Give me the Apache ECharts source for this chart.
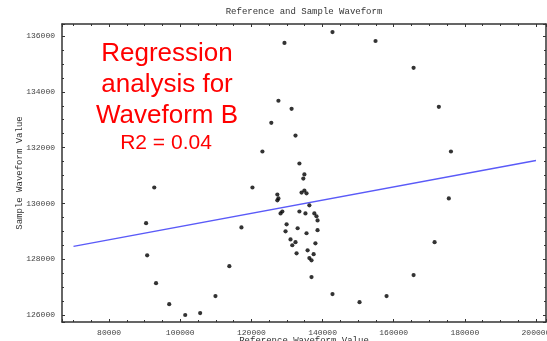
<!DOCTYPE html>
<html>
<head>
<meta charset="utf-8">
<script src="https://cdn.jsdelivr.net/npm/echarts@6/dist/echarts.min.js"></script>
<style>
  html, body { margin: 0; padding: 0; background: #fff; }
  #chart { width: 547px; height: 341px; }
</style>
</head>
<body>
<div id="chart"></div>
<script>
// reference waveform value (x) and sample waveform value (y) of each point
const refValues = [
  142800, 129300, 154900, 165600, 127600, 131300, 125600, 132400, 172700, 176100,
  123100, 133500, 134900, 134600, 92700, 120300, 134100, 134900, 135500, 127300,
  127600, 127300, 175500, 136300, 128700, 128200, 133500, 135200, 137700, 138300,
  138600, 90400, 129900, 117200, 129600, 133000, 138600, 135500, 131000, 132400,
  131500, 138000, 171500, 132700, 135800, 137500, 136300, 136900, 90700, 113800,
  165600, 136900, 93200, 142800, 158000, 109900, 150400, 96900, 101400, 105600
]
const sampleValues = [
  136140, 135750, 135820, 134860, 133680, 133390, 132890, 132430, 133460, 131860,
  131860, 131430, 131040, 130890, 130570, 130570, 130390, 130460, 130360, 130320,
  130180, 130110, 130180, 129930, 129710, 129640, 129710, 129640, 129640, 129540,
  129390, 129290, 129250, 129140, 129000, 129110, 129040, 128930, 128710, 128610,
  128500, 128570, 128610, 128210, 128320, 128180, 128040, 127960, 128140, 127750,
  127430, 127360, 127140, 126750, 126680, 126680, 126460, 126390, 126000, 126070
]
// fitted regression line end points
const fitX = [70000, 200000]
const fitY = [128460, 131540]

const xMin = 66760, xMax = 202820
const yMin = 125750, yMax = 136430

let points = []
for (let i = 0; i < refValues.length; i++) {
    points.push([refValues[i], sampleValues[i]])
}
let fitLine = []
for (let i = 0; i < fitX.length; i++) {
    fitLine.push([fitX[i], fitY[i]])
}

const plain = v => String(v)
const axisFont = { fontFamily: 'Liberation Mono', fontSize: 8, color: '#444', formatter: plain }
const lineStyle = { color: '#333', width: 1.5 }

const chart = echarts.init(document.getElementById('chart'), null, { renderer: 'canvas' })
const option = {
    animation: false,
    grid: { left: 62, top: 24, right: 1, bottom: 19, show: false, containLabel: false, outerBoundsMode: 'none' },
    xAxis: [{
        type: 'value',
        min: xMin,
        max: xMax,
        splitNumber: 7,
        name: 'Reference Waveform Value',
        nameLocation: 'middle',
        nameGap: 14,
        nameMoveOverlap: false,
        nameTextStyle: { fontFamily: 'Liberation Mono', fontSize: 9, color: '#333' },
        axisLine: { show: true, onZero: false, lineStyle: lineStyle },
        axisTick: { show: true, inside: true, length: 3, lineStyle: { color: '#333' } },
        minorTick: { show: true, splitNumber: 4, length: 2, lineStyle: { color: '#333' } },
        splitLine: { show: false },
        axisLabel: { ...axisFont, margin: 7, showMinLabel: false, showMaxLabel: false }
    }, {
        type: 'value',
        position: 'top',
        min: xMin,
        max: xMax,
        splitNumber: 7,
        axisLine: { show: true, onZero: false, lineStyle: lineStyle },
        axisTick: { show: true, inside: true, length: 3, lineStyle: { color: '#333' } },
        minorTick: { show: true, splitNumber: 4, length: 2, lineStyle: { color: '#333' } },
        splitLine: { show: false },
        axisLabel: { show: false }
    }],
    yAxis: [{
        type: 'value',
        min: yMin,
        max: yMax,
        name: 'Sample Waveform Value',
        nameLocation: 'middle',
        nameGap: 38,
        nameMoveOverlap: false,
        nameTextStyle: { fontFamily: 'Liberation Mono', fontSize: 9, color: '#333' },
        axisLine: { show: true, onZero: false, lineStyle: lineStyle },
        axisTick: { show: true, inside: true, length: 3, lineStyle: { color: '#333' } },
        minorTick: { show: true, splitNumber: 4, length: 2, lineStyle: { color: '#333' } },
        splitLine: { show: false },
        axisLabel: { ...axisFont, margin: 7, showMinLabel: false, showMaxLabel: false }
    }, {
        type: 'value',
        position: 'right',
        min: yMin,
        max: yMax,
        axisLine: { show: true, onZero: false, lineStyle: lineStyle },
        axisTick: { show: true, inside: true, length: 3, lineStyle: { color: '#333' } },
        minorTick: { show: true, splitNumber: 4, length: 2, lineStyle: { color: '#333' } },
        splitLine: { show: false },
        axisLabel: { show: false }
    }],
    graphic: [
        { type: 'text', x: 304, y: 12, style: { text: 'Reference and Sample Waveform', fontFamily: 'Liberation Mono', fontSize: 9, fill: '#333', align: 'center', verticalAlign: 'middle' } },
        { type: 'text', x: 167, y: 54, style: { text: 'Regression', fontFamily: 'Liberation Sans', fontSize: 26, fill: '#ff0000', align: 'center', verticalAlign: 'middle' } },
        { type: 'text', x: 167, y: 85, style: { text: 'analysis for', fontFamily: 'Liberation Sans', fontSize: 26, fill: '#ff0000', align: 'center', verticalAlign: 'middle' } },
        { type: 'text', x: 167, y: 116, style: { text: 'Waveform B', fontFamily: 'Liberation Sans', fontSize: 26, fill: '#ff0000', align: 'center', verticalAlign: 'middle' } },
        { type: 'text', x: 166, y: 143, style: { text: 'R2 = 0.04', fontFamily: 'Liberation Sans', fontSize: 21, fill: '#ff0000', align: 'center', verticalAlign: 'middle' } }
    ],
    series: [{
        name: 'fit',
        type: 'line',
        data: fitLine,
        symbol: 'none',
        lineStyle: { color: '#5a5af8', width: 1.5 },
        z: 2
    }, {
        name: 'points',
        type: 'scatter',
        data: points,
        symbol: 'circle',
        symbolSize: 4.2,
        itemStyle: { color: '#000' },
        z: 3
    }]
}
chart.setOption(option)
</script>
</body>
</html>
